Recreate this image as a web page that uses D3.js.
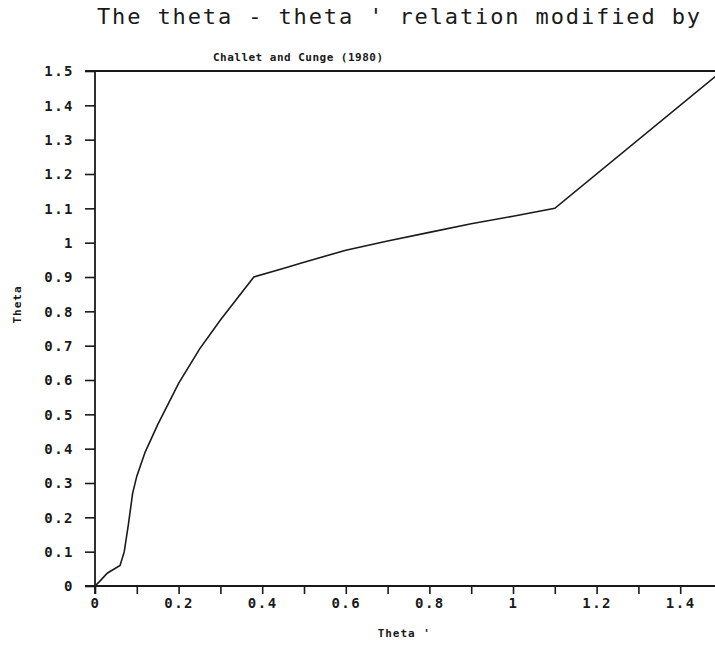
<!DOCTYPE html>
<html>
<head>
<meta charset="utf-8">
<script src="https://cdn.jsdelivr.net/npm/d3@7"></script>
<style>
	body { margin: 0; background: #fff; }
	text { font-family: "DejaVu Sans Mono", "Liberation Mono", monospace; fill: #1a1a1a; }
</style>
</head>
<body>
<div id="svg-container"></div>
<script>
// data: theta' (x) against theta (y)
var thetaPrime = [0, 0.01, 0.03, 0.06, 0.07, 0.08, 0.09, 0.10, 0.12, 0.15, 0.20, 0.25, 0.30, 0.38,
	0.45, 0.50, 0.60, 0.70, 0.80, 0.90, 1.00, 1.10, 1.50];
var theta = [0, 0.012, 0.038, 0.06, 0.10, 0.18, 0.27, 0.32, 0.39, 0.47, 0.59, 0.69, 0.775, 0.90,
	0.925, 0.943, 0.978, 1.005, 1.03, 1.055, 1.077, 1.10, 1.50];

var xTicks = [0, 0.1, 0.2, 0.3, 0.4, 0.5, 0.6, 0.7, 0.8, 0.9, 1, 1.1, 1.2, 1.3, 1.4];
var xLabels = [0, 0.2, 0.4, 0.6, 0.8, 1, 1.2, 1.4];
var yTicks = [0, 0.1, 0.2, 0.3, 0.4, 0.5, 0.6, 0.7, 0.8, 0.9, 1, 1.1, 1.2, 1.3, 1.4, 1.5];

var titleText = "The theta - theta ' relation modified by";
var subTitleText = "Challet and Cunge (1980)";
var xTitle = "Theta '";
var yTitle = "Theta";

var pageWidth = 715;
var pageHeight = 649;
var plotLeft = 95;
var plotTop = 71;
var plotBottom = 586;

var xScale = d3.scaleLinear()
	.domain([0, 1.5])
	.range([plotLeft, plotLeft + 627]);

var yScale = d3.scaleLinear()
	.domain([0, 1.5])
	.range([plotBottom, plotTop]);

var svg = d3.select('#svg-container')
	.append('svg')
	.attr('width', pageWidth)
	.attr('height', pageHeight);

// titles
svg.append('text')
	.attr('x', 97)
	.attr('y', 24)
	.attr('font-size', 22)
	.attr('textLength', 603)
	.attr('lengthAdjust', 'spacing')
	.text(titleText);

svg.append('text')
	.attr('x', 213)
	.attr('y', 61)
	.attr('font-size', 11)
	.attr('font-weight', 'bold')
	.attr('textLength', 170)
	.attr('lengthAdjust', 'spacing')
	.text(subTitleText);

// y axis
var yAxis = d3.axisLeft(yScale)
	.tickValues(yTicks)
	.tickSize(10)
	.tickSizeOuter(0)
	.tickPadding(0)
	.tickFormat(function(d) { return d3.format('~g')(d); });

var yG = svg.append('g')
	.attr('transform', `translate(${plotLeft}, 0)`)
	.call(yAxis);

yG.select('.domain').remove();
yG.selectAll('.tick line').attr('stroke', '#1a1a1a').attr('stroke-width', 1.6);
yG.selectAll('.tick text')
	.attr('x', -21)
	.attr('dy', '0.35em')
	.attr('font-size', 14)
	.attr('font-weight', 'bold')
	.attr('letter-spacing', 1.5)
	.attr('text-anchor', 'end');

// x axis
var xAxis = d3.axisBottom(xScale)
	.tickValues(xTicks)
	.tickSize(8)
	.tickSizeOuter(0)
	.tickFormat(function(d) { return xLabels.indexOf(d) >= 0 ? d3.format('~g')(d) : ''; });

var xG = svg.append('g')
	.attr('transform', `translate(0, ${plotBottom})`)
	.call(xAxis);

xG.select('.domain').remove();
xG.selectAll('.tick line').attr('stroke', '#1a1a1a').attr('stroke-width', 1.6);
xG.selectAll('.tick text')
	.attr('y', 16)
	.attr('dy', '0.45em')
	.attr('font-size', 14)
	.attr('font-weight', 'bold')
	.attr('letter-spacing', 1.5);

// axis lines and top frame line
svg.append('line')
	.attr('x1', plotLeft).attr('x2', plotLeft)
	.attr('y1', yScale(1.5)).attr('y2', plotBottom + 8)
	.attr('stroke', '#1a1a1a').attr('stroke-width', 1.8);

svg.append('line')
	.attr('x1', plotLeft - 10).attr('x2', pageWidth)
	.attr('y1', plotBottom).attr('y2', plotBottom)
	.attr('stroke', '#1a1a1a').attr('stroke-width', 1.8);

svg.append('line')
	.attr('x1', plotLeft - 10).attr('x2', pageWidth)
	.attr('y1', yScale(1.5)).attr('y2', yScale(1.5))
	.attr('stroke', '#1a1a1a').attr('stroke-width', 2.2);

// axis titles
svg.append('text')
	.attr('x', xScale(0.74))
	.attr('y', 637)
	.attr('font-size', 11)
	.attr('font-weight', 'bold')
	.attr('letter-spacing', 1)
	.attr('text-anchor', 'middle')
	.text(xTitle);

svg.append('text')
	.attr('transform', `translate(21, ${yScale(0.82)}) rotate(-90)`)
	.attr('font-size', 11)
	.attr('font-weight', 'bold')
	.attr('letter-spacing', 1)
	.attr('text-anchor', 'middle')
	.text(yTitle);

// curve
var line = d3.line()
	.x(function(d, i) { return xScale(thetaPrime[i]); })
	.y(function(d) { return yScale(d); });

svg.append('path')
	.datum(theta)
	.attr('d', line)
	.attr('fill', 'none')
	.attr('stroke', '#1a1a1a')
	.attr('stroke-width', 1.6);
</script>
</body>
</html>
